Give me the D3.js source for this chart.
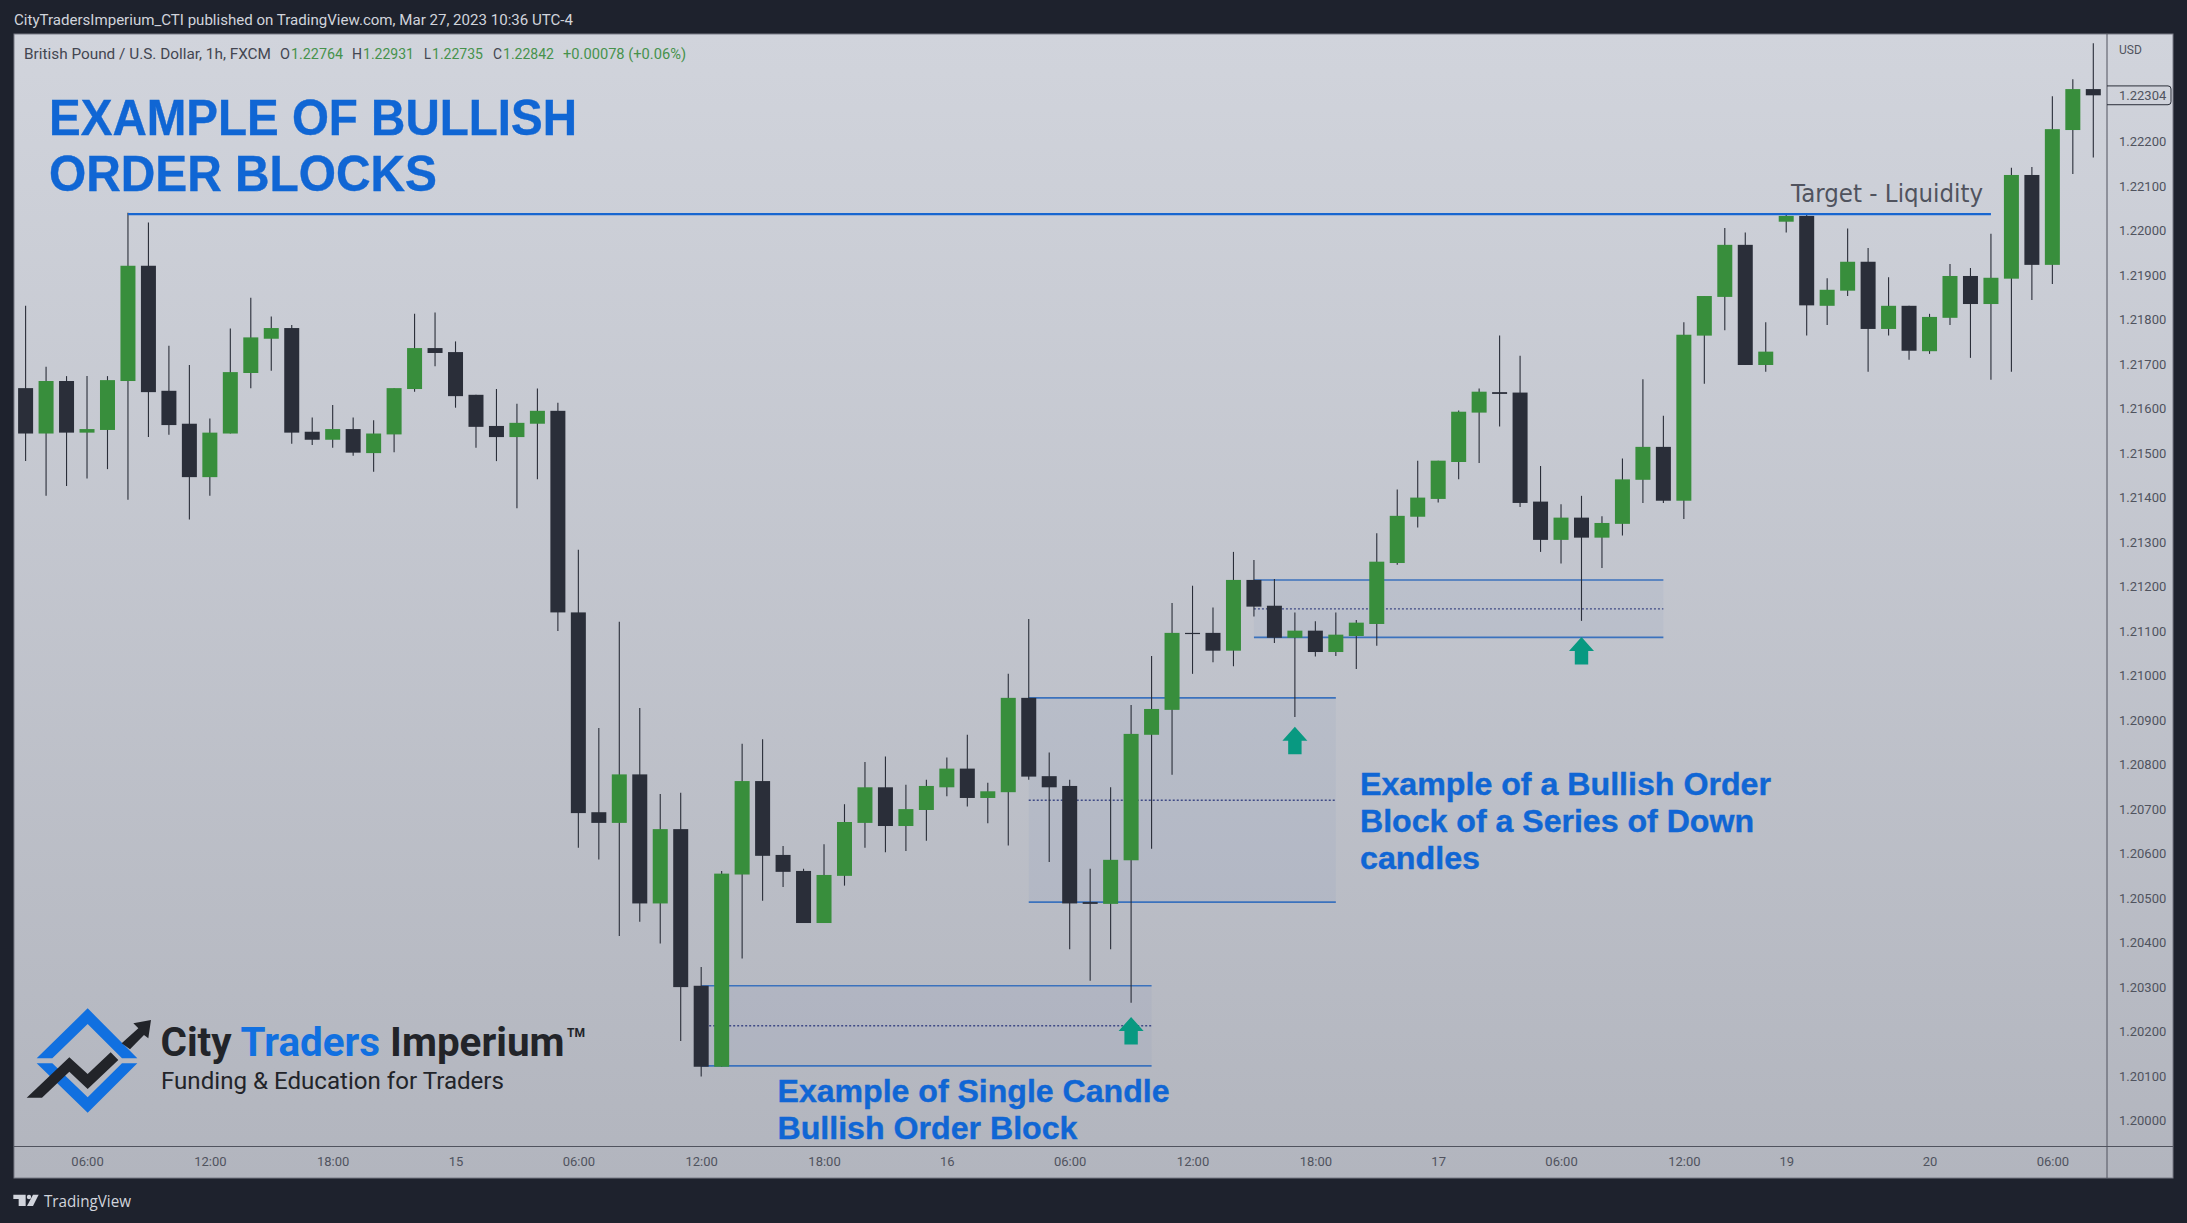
<!DOCTYPE html>
<html>
<head>
<meta charset="utf-8">
<title>Example of bullish order blocks</title>
<script src="https://cdn.jsdelivr.net/npm/d3@7/dist/d3.min.js"></script>
<style>
  html, body { margin: 0; padding: 0; background: #1e222d; overflow: hidden; }
  svg { display: block; }
</style>
</head>
<body>
<div id="chart"></div>
<script>
// hourly GBP/USD candles, one entry per bar
const opens = [1.21646,1.21544,1.21662,1.21546,1.21552,1.21662,1.21921,1.21640,1.21566,1.21446,1.21544,1.21680,1.21757,1.21781,1.21548,1.21530,1.21554,1.21500,1.21542,1.21644,1.21736,1.21727,1.21631,1.21561,1.21536,1.21566,1.21595,1.21142,1.20693,1.20669,1.20778,1.20488,1.20655,1.20303,1.20121,1.20553,1.20763,1.20597,1.20561,1.20444,1.20550,1.20669,1.20749,1.20662,1.20698,1.20749,1.20791,1.20725,1.20738,1.20950,1.20774,1.20752,1.20491,1.20487,1.20585,1.20867,1.20923,1.21096,1.21096,1.21056,1.21215,1.21157,1.21085,1.21101,1.21053,1.21089,1.21116,1.21253,1.21357,1.21397,1.21480,1.21591,1.21637,1.21636,1.21391,1.21305,1.21355,1.21310,1.21341,1.21440,1.21514,1.21393,1.21764,1.21851,1.21968,1.21698,1.22020,1.22033,1.21831,1.21865,1.21930,1.21779,1.21831,1.21729,1.21804,1.21898,1.21835,1.21892,1.22125,1.21923,1.22226,1.22318];
const highs = [1.21831,1.21694,1.21673,1.21673,1.21673,1.22040,1.22018,1.21741,1.21698,1.21578,1.21780,1.21849,1.21807,1.21788,1.21580,1.21608,1.21580,1.21574,1.21646,1.21813,1.21816,1.21751,1.21631,1.21644,1.21611,1.21645,1.21613,1.21283,1.20882,1.21121,1.20927,1.20734,1.20737,1.20345,1.20561,1.20847,1.20857,1.20617,1.20566,1.20621,1.20711,1.20806,1.20818,1.20755,1.20766,1.20816,1.20867,1.20759,1.21004,1.21127,1.20827,1.20766,1.20566,1.20749,1.20934,1.21044,1.21163,1.21202,1.21153,1.21278,1.21260,1.21217,1.21142,1.21122,1.21142,1.21125,1.21320,1.21418,1.21483,1.21483,1.21596,1.21645,1.21764,1.21719,1.21471,1.21385,1.21404,1.21358,1.21488,1.21666,1.21584,1.21794,1.21853,1.22006,1.21996,1.21794,1.22038,1.22038,1.21893,1.22005,1.21961,1.21895,1.21831,1.21813,1.21925,1.21916,1.21993,1.22141,1.22143,1.22302,1.22340,1.22421];
const lows = [1.21482,1.21404,1.21426,1.21443,1.21464,1.21395,1.21536,1.21541,1.21351,1.21404,1.21544,1.21646,1.21685,1.21521,1.21518,1.21512,1.21494,1.21458,1.21502,1.21638,1.21695,1.21602,1.21512,1.21482,1.21376,1.21441,1.21100,1.20613,1.20587,1.20415,1.20447,1.20398,1.20179,1.20099,1.20121,1.20364,1.20494,1.20525,1.20444,1.20444,1.20528,1.20613,1.20603,1.20606,1.20629,1.20729,1.20706,1.20668,1.20618,1.20766,1.20581,1.20385,1.20314,1.20385,1.20265,1.20611,1.20777,1.21004,1.21030,1.21021,1.21133,1.21073,1.20907,1.21043,1.21044,1.21015,1.21067,1.21249,1.21333,1.21389,1.21441,1.21478,1.21560,1.21379,1.21278,1.21252,1.21123,1.21242,1.21315,1.21388,1.21388,1.21352,1.21656,1.21776,1.21698,1.21683,1.21996,1.21764,1.21788,1.21853,1.21683,1.21764,1.21710,1.21723,1.21788,1.21714,1.21665,1.21683,1.21844,1.21880,1.22127,1.22164];
const closes = [1.21544,1.21662,1.21546,1.21554,1.21664,1.21921,1.21637,1.21563,1.21446,1.21546,1.21682,1.21760,1.21781,1.21546,1.21530,1.21554,1.21501,1.21544,1.21646,1.21736,1.21725,1.21628,1.21559,1.21536,1.21568,1.21595,1.21142,1.20691,1.20669,1.20778,1.20488,1.20655,1.20300,1.20121,1.20555,1.20763,1.20595,1.20559,1.20444,1.20552,1.20671,1.20749,1.20662,1.20700,1.20752,1.20791,1.20725,1.20740,1.20950,1.20773,1.20749,1.20488,1.20487,1.20586,1.20869,1.20925,1.21096,1.21094,1.21056,1.21215,1.21155,1.21085,1.21101,1.21053,1.21092,1.21119,1.21256,1.21359,1.21400,1.21483,1.21593,1.21638,1.21633,1.21388,1.21305,1.21355,1.21310,1.21343,1.21441,1.21514,1.21393,1.21766,1.21853,1.21968,1.21698,1.21728,1.22033,1.21832,1.21867,1.21930,1.21779,1.21831,1.21730,1.21806,1.21898,1.21835,1.21894,1.22125,1.21923,1.22228,1.22318,1.22304];

const priceTicks = [1.2,1.201,1.202,1.203,1.204,1.205,1.206,1.207,1.208,1.209,1.21,1.211,1.212,1.213,1.214,1.215,1.216,1.217,1.218,1.219,1.22,1.221,1.222];
const timeTickBars = [3,9,15,21,27,33,39,45,51,57,63,69,75,81,86,93,99];
const timeTickLabels = ["06:00","12:00","18:00","15","06:00","12:00","18:00","16","06:00","12:00","18:00","17","06:00","12:00","19","20","06:00"];

// order block zones: first bar, last bar, top, middle, bottom
const zoneStart = [33, 49, 60];
const zoneEnd = [55, 64, 80];
const zoneTop = [1.20303, 1.20950, 1.21215];
const zoneMid = [1.20213, 1.20720, 1.21150];
const zoneBottom = [1.20123, 1.20491, 1.21086];

const arrowBars = [54, 62, 76];
const arrowTips = [1.20233, 1.20885, 1.21087];

const targetStart = 5;
const targetEnd = 96;
const targetPrice = 1.22037;

const legendLabels = ["British Pound / U.S. Dollar, 1h, FXCM", "O", "1.22764", "H", "1.22931", "L", "1.22735", "C", "1.22842", "+0.00078 (+0.06%)"];

const w = 2187;
const h = 1223;
const pane = { left: 14, top: 34, right: 2173, bottom: 1178 };
const plotRight = 2107;
const plotBottom = 1146.5;

const bodyWidth = 15;
const up = "#388e3c";
const down = "#2a2e39";
const blue = "#1066d4";
const teal = "#089981";
const axisText = "#50535e";

// where each legend piece starts and how wide it runs
const legendX = [24, 280, 291, 352, 363, 424, 432, 493, 503, 563];
const legendLen = [247, 10, 52, 10, 51, 7, 51, 9, 51, 123];

const svg = d3.select("#chart").append("svg").attr("width", w).attr("height", h);

const defs = svg.append("defs");
const grad = defs.append("linearGradient").attr("id", "paneBg").attr("x1", 0).attr("y1", 0).attr("x2", 0).attr("y2", 1);
grad.append("stop").attr("offset", "0%").attr("stop-color", "#d1d4dc");
grad.append("stop").attr("offset", "100%").attr("stop-color", "#b2b5be");
defs.append("clipPath").attr("id", "plotClip").append("rect")
  .attr("x", pane.left).attr("y", pane.top).attr("width", plotRight - pane.left).attr("height", plotBottom - pane.top);

svg.append("rect").attr("width", w).attr("height", h).attr("fill", "#1e222d");
svg.append("rect")
  .attr("x", pane.left).attr("y", pane.top)
  .attr("width", pane.right - pane.left).attr("height", pane.bottom - pane.top)
  .attr("fill", "url(#paneBg)")
  .attr("stroke", "#787b86");

const x = d3.scaleLinear().domain([0, 101]).range([25.6, 2093.3]);
const y = d3.scaleLinear().domain([1.2, 1.222]).range([1120.6, 141.6]);

const bars = d3.range(opens.length).map((i) => ({
  i, open: opens[i], high: highs[i], low: lows[i], close: closes[i],
}));

const zones = zoneStart.map((s, k) => ({
  start: s, end: zoneEnd[k], top: zoneTop[k], mid: zoneMid[k], bottom: zoneBottom[k],
}));

const plot = svg.append("g").attr("clip-path", "url(#plotClip)");

// zones go under the candles
const zone = plot.selectAll("g.zone").data(zones).enter().append("g").attr("class", "zone");
zone.append("rect")
  .attr("x", (d) => x(d.start))
  .attr("y", (d) => y(d.top))
  .attr("width", (d) => x(d.end) - x(d.start))
  .attr("height", (d) => y(d.bottom) - y(d.top))
  .attr("fill", "#5f86b5")
  .attr("fill-opacity", 0.07);
[["top", 1.6, null, "#3b72bd"], ["bottom", 1.6, null, "#3b72bd"], ["mid", 1.4, "2 2", "#3f4a86"]].forEach(([field, sw, dash, colour]) => {
  zone.append("line")
    .attr("x1", (d) => x(d.start))
    .attr("x2", (d) => x(d.end))
    .attr("y1", (d) => y(d[field]))
    .attr("y2", (d) => y(d[field]))
    .attr("stroke", colour)
    .attr("stroke-width", sw)
    .attr("stroke-dasharray", dash);
});

plot.selectAll("line.wick").data(bars).enter().append("line")
  .attr("class", "wick")
  .attr("x1", (d) => x(d.i))
  .attr("x2", (d) => x(d.i))
  .attr("y1", (d) => y(d.high))
  .attr("y2", (d) => y(d.low))
  .attr("stroke", down)
  .attr("stroke-width", 1.1);

plot.selectAll("rect.body").data(bars).enter().append("rect")
  .attr("class", "body")
  .attr("x", (d) => x(d.i) - bodyWidth / 2)
  .attr("y", (d) => y(Math.max(d.open, d.close)))
  .attr("width", bodyWidth)
  .attr("height", (d) => Math.max(1.2, Math.abs(y(d.open) - y(d.close))))
  .attr("fill", (d) => (d.close >= d.open ? up : down));

// target line
plot.append("line")
  .attr("x1", x(targetStart)).attr("x2", x(targetEnd))
  .attr("y1", y(targetPrice)).attr("y2", y(targetPrice))
  .attr("stroke", "#1866d0")
  .attr("stroke-width", 2.4);

// arrows, tip on the price
plot.selectAll("path.arrow").data(arrowBars).enter().append("path")
  .attr("class", "arrow")
  .attr("transform", (d, k) => `translate(${x(d)},${y(arrowTips[k])})`)
  .attr("d", "M0,0 L12.5,14 L6.7,14 L6.7,27.5 L-6.7,27.5 L-6.7,14 L-12.5,14 Z")
  .attr("fill", teal);

// axes
const priceAxis = svg.append("g")
  .attr("transform", `translate(${plotRight},0)`)
  .call(d3.axisRight(y).tickValues(priceTicks).tickSize(0).tickPadding(12).tickFormat(d3.format(".5f")));
const timeAxis = svg.append("g")
  .attr("transform", `translate(0,${plotBottom})`)
  .call(d3.axisBottom(x).tickValues(timeTickBars).tickSize(0).tickPadding(10).tickFormat((d) => timeTickLabels[timeTickBars.indexOf(d)]));
[priceAxis, timeAxis].forEach((a) => {
  a.select(".domain").remove();
  a.selectAll("text").attr("fill", axisText).style("font", "13px Roboto");
});

svg.append("line")
  .attr("x1", plotRight).attr("x2", plotRight)
  .attr("y1", pane.top).attr("y2", pane.bottom)
  .attr("stroke", "#50535e");
svg.append("line")
  .attr("x1", pane.left).attr("x2", pane.right)
  .attr("y1", plotBottom).attr("y2", plotBottom)
  .attr("stroke", "#50535e");

svg.append("text").attr("x", 2119).attr("y", 54).attr("fill", axisText).style("font", "12px Roboto").text("USD");

// last price tag
const lastY = y(closes[closes.length - 1]);
svg.append("path")
  .attr("d", `M${plotRight},${lastY - 9.4} H2168 Q2171,${lastY - 9.4} 2171,${lastY - 6.4} V${lastY + 6.4} Q2171,${lastY + 9.4} 2168,${lastY + 9.4} H${plotRight}`)
  .attr("fill", "none")
  .attr("stroke", down);
svg.append("text").attr("x", 2119).attr("y", lastY + 4.5).attr("fill", axisText).style("font", "13px Roboto").text("1.22304");

// header, legend, footer
svg.append("text").attr("x", 14).attr("y", 25).attr("fill", "#d1d4dc").style("font", "15px Roboto")
  .attr("textLength", 559).attr("lengthAdjust", "spacingAndGlyphs")
  .text("CityTradersImperium_CTI published on TradingView.com, Mar 27, 2023 10:36 UTC-4");

svg.selectAll("text.legend").data(legendLabels).enter().append("text")
  .attr("class", "legend")
  .attr("x", (d, i) => legendX[i])
  .attr("y", 59)
  .attr("fill", (d, i) => (i === 0 || (i < 9 && i % 2 === 1) ? "#434651" : "#46924c"))
  .style("font", "15px Roboto")
  .attr("textLength", (d, i) => legendLen[i])
  .attr("lengthAdjust", "spacingAndGlyphs")
  .text((d) => d);

svg.append("text").attr("x", 44).attr("y", 1206.5).attr("fill", "#d1d4dc").style("font", "16.5px 'Open Sans'")
  .attr("textLength", 87).attr("lengthAdjust", "spacingAndGlyphs").text("TradingView");
const tv = svg.append("g").attr("transform", "translate(5,1180) scale(0.3333)").attr("fill", "#d1d4dc");
tv.append("path").attr("d", "M25,44 H62 V78 H41 V57 H25 Z");
tv.append("circle").attr("cx", 72).attr("cy", 51).attr("r", 6.5);
tv.append("path").attr("d", "M84,44 H101 L84,78 H66 Z");

// annotations
const heading = (str, px, py, size, len) => svg.append("text")
  .attr("x", px).attr("y", py)
  .attr("fill", blue)
  .attr("stroke", blue)
  .attr("stroke-width", 0.4)
  .style("font", `bold ${size}px 'Liberation Sans'`)
  .attr("textLength", len).attr("lengthAdjust", "spacingAndGlyphs")
  .text(str);

heading("EXAMPLE OF BULLISH", 49, 135, 50, 528);
heading("ORDER BLOCKS", 49, 190.5, 50, 388);
heading("Example of Single Candle", 777.5, 1101.5, 31, 392);
heading("Bullish Order Block", 777.5, 1138.5, 31, 300);
heading("Example of a Bullish Order", 1360, 795, 31, 411);
heading("Block of a Series of Down", 1360, 832, 31, 394);
heading("candles", 1360, 869, 31, 120);

svg.append("text").attr("x", 1791).attr("y", 202).attr("fill", "#50535e")
  .style("font", "24px 'DejaVu Sans'")
  .attr("textLength", 192).attr("lengthAdjust", "spacingAndGlyphs")
  .text("Target - Liquidity");

// logo
const logo = svg.append("g").attr("transform", "translate(20,1000) scale(0.3333)");
logo.append("path").attr("fill", "#1170e0").attr("d", "M203,25 L352,175 L306,175 L203,72 L97,175 L50,175 Z");
logo.append("path").attr("fill", "#1170e0").attr("d", "M50,190 L97,190 L203,292 L306,190 L352,190 L203,338 Z");
logo.append("path").attr("fill", "#222429").attr("d", "M20,293 L66,293 L148,215 L203,267 L295,180 L272,157 L203,222 L148,172 Z");
logo.append("path").attr("fill", "#222429").attr("d", "M305,130 L330,148 L372,105 L385,115 L393,60 L340,70 L355,85 Z");

const brand = svg.append("text").attr("x", 160.5).attr("y", 1056).style("font", "bold 40px Roboto")
  .attr("textLength", 404).attr("lengthAdjust", "spacingAndGlyphs");
brand.append("tspan").attr("fill", "#222429").text("City ");
brand.append("tspan").attr("fill", "#1170e0").text("Traders ");
brand.append("tspan").attr("fill", "#222429").text("Imperium");
svg.append("text").attr("x", 567).attr("y", 1037).attr("fill", "#222429").style("font", "bold 12px Roboto")
  .attr("textLength", 18).attr("lengthAdjust", "spacingAndGlyphs").text("TM");
svg.append("text").attr("x", 161).attr("y", 1089).attr("fill", "#222429").style("font", "23px Roboto")
  .attr("textLength", 343).attr("lengthAdjust", "spacingAndGlyphs")
  .text("Funding & Education for Traders");
</script>
</body>
</html>
